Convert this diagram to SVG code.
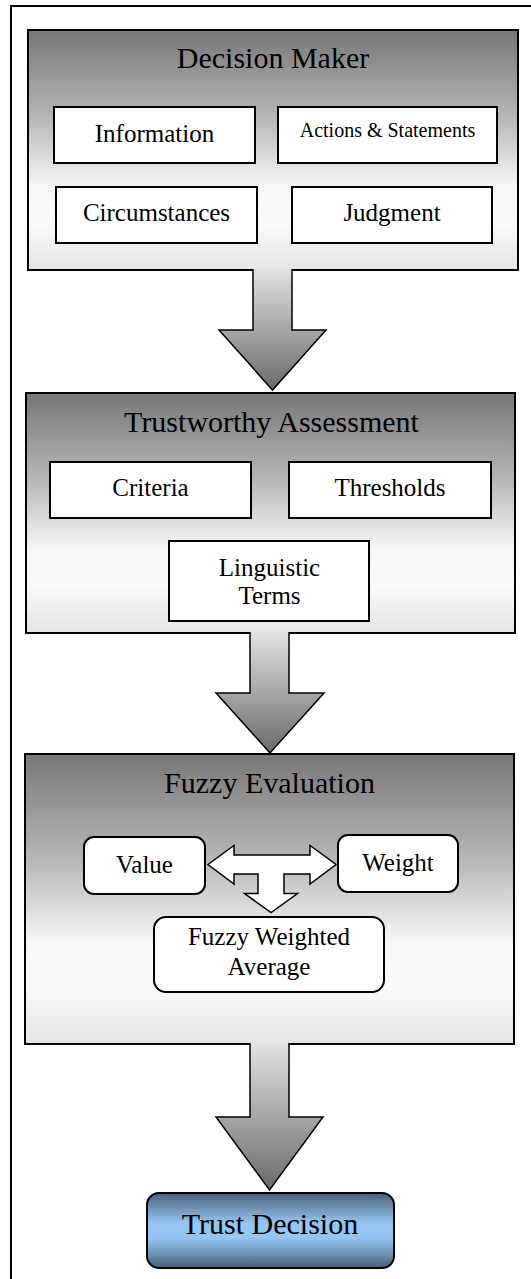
<svg xmlns="http://www.w3.org/2000/svg" width="531" height="1279" viewBox="0 0 531 1279">
  <defs>
    <linearGradient id="panelFill" x1="0" y1="0" x2="0" y2="1">
      <stop offset="0" stop-color="#777777"/>
      <stop offset="0.35" stop-color="#b4b4b4"/>
      <stop offset="0.65" stop-color="#f6f6f6"/>
      <stop offset="0.8" stop-color="#fafafa"/>
      <stop offset="1" stop-color="#e4e4e4"/>
    </linearGradient>
    <linearGradient id="arrowFill" x1="0" y1="0" x2="0" y2="1">
      <stop offset="0" stop-color="#e2e2e2"/>
      <stop offset="1" stop-color="#6a6a6a"/>
    </linearGradient>
    <linearGradient id="blueFill" x1="0" y1="0" x2="0" y2="1">
      <stop offset="0" stop-color="#4a6077"/>
      <stop offset="0.4" stop-color="#95c6f2"/>
      <stop offset="0.6" stop-color="#95c6f2"/>
      <stop offset="1" stop-color="#4a6077"/>
    </linearGradient>
    <style>
      .frame { fill: #ffffff; stroke: #000000; stroke-width: 2; }
      .panel { fill: url(#panelFill); stroke: #000000; stroke-width: 2; }
      .box { fill: #ffffff; stroke: #000000; stroke-width: 2; }
      .arrow { fill: url(#arrowFill); stroke: #000000; stroke-width: 1.5; stroke-linejoin: miter; }
      .hollow { fill: #ffffff; stroke: #000000; stroke-width: 1.5; stroke-linejoin: miter; }
      .result { fill: url(#blueFill); stroke: #000000; stroke-width: 2; }
      text { font-family: "Liberation Serif", "Times New Roman", serif; fill: #000000; text-anchor: middle; }
      .title { font-size: 30px; }
      .label { font-size: 25px; }
      .small { font-size: 20px; }
    </style>
  </defs>

  <!-- page frame, running off the right and bottom edges -->
  <rect class="frame" x="11" y="6" width="540" height="1300"/>

  <g id="decision-maker">
    <rect class="panel" x="28" y="30" width="490" height="240"/>
    <text class="title" x="273" y="68">Decision Maker</text>
    <g id="information">
      <rect class="box" x="54" y="107" width="201" height="56"/>
      <text class="label" x="154.5" y="141.5">Information</text>
    </g>
    <g id="actions-statements">
      <rect class="box" x="278" y="107" width="219" height="56"/>
      <text class="small" x="387.5" y="137">Actions &amp; Statements</text>
    </g>
    <g id="circumstances">
      <rect class="box" x="56" y="187" width="201" height="56"/>
      <text class="label" x="156.5" y="221">Circumstances</text>
    </g>
    <g id="judgment">
      <rect class="box" x="292" y="187" width="200" height="56"/>
      <text class="label" x="392" y="221">Judgment</text>
    </g>
  </g>

  <g id="trustworthy-assessment">
    <rect class="panel" x="26" y="393" width="489" height="240"/>
    <text class="title" x="271.5" y="432">Trustworthy Assessment</text>
    <g id="criteria">
      <rect class="box" x="50" y="462" width="201" height="56"/>
      <text class="label" x="150.5" y="496">Criteria</text>
    </g>
    <g id="thresholds">
      <rect class="box" x="289" y="462" width="202" height="56"/>
      <text class="label" x="390" y="496">Thresholds</text>
    </g>
    <g id="linguistic-terms">
      <rect class="box" x="169" y="541" width="200" height="80"/>
      <text class="label" x="269.5" y="576">Linguistic</text>
      <text class="label" x="269.5" y="604">Terms</text>
    </g>
  </g>

  <g id="fuzzy-evaluation">
    <rect class="panel" x="25" y="754" width="489" height="290"/>
    <text class="title" x="269.5" y="793">Fuzzy Evaluation</text>
    <g id="value">
      <rect class="box" x="84" y="837" width="121" height="57" rx="10"/>
      <text class="label" x="144.5" y="873">Value</text>
    </g>
    <g id="weight">
      <rect class="box" x="338" y="835" width="120" height="57" rx="10"/>
      <text class="label" x="398" y="870.5">Weight</text>
    </g>
    <g id="fuzzy-weighted-average">
      <rect class="box" x="154" y="917" width="230" height="75" rx="12"/>
      <text class="label" x="269" y="945">Fuzzy Weighted</text>
      <text class="label" x="269" y="975">Average</text>
    </g>
    <!-- value/weight combine into the weighted average -->
    <path id="combine-arrow" class="hollow" d="M208 864.5 L234 845.5 V855 H310 V845.5 L336 864.5 L310 884 V874 H284 V893.5 H297.5 L271 912.5 L244.5 893.5 H258 V874 H234 V884 Z"/>
  </g>

  <g id="trust-decision">
    <rect class="result" x="147" y="1193" width="247" height="75" rx="12"/>
    <text class="title" x="270" y="1234">Trust Decision</text>
  </g>

  <g id="connectors">
    <path class="arrow" d="M253 269 V330 H219 L272.5 390 L326 330 H292 V269"/>
    <path class="arrow" d="M250 632 V693 H216 L270 753 L324 693 H289 V632"/>
    <path class="arrow" d="M250 1043 V1117 H216 L269.5 1190 L323 1117 H289 V1043"/>
  </g>
</svg>
